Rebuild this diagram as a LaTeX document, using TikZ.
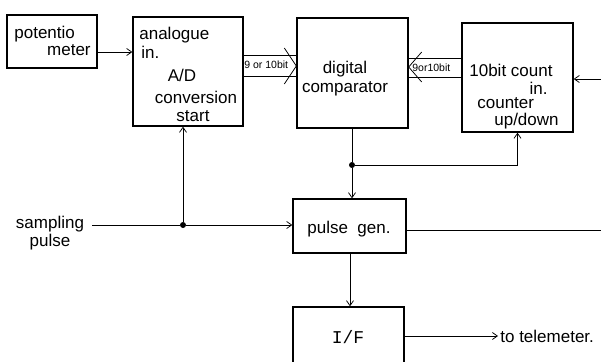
\documentclass[tikz,border=0pt]{standalone}
\usepackage{fontspec}
\setmainfont{Liberation Sans}
\setmonofont{Liberation Mono}
\usetikzlibrary{arrows.meta,positioning,calc}

\begin{document}
\begin{tikzpicture}[x=1pt,y=-1pt,>={Straight Barb[length=5pt,width=7pt]},
   font=\fontsize{17}{18}\selectfont,line width=0.75pt,
   blk/.style={draw,line width=1.4pt,inner sep=0pt},
   txt/.style={inner sep=0pt},
   bl/.style={inner sep=0pt,font=\fontsize{10.5}{11}\selectfont},
   jn/.style={circle,fill,inner sep=0pt,minimum size=6pt}]
  \useasboundingbox (0,0) rectangle (601,361);
  \clip (0,0) rectangle (601,361);
  % blocks
  \node[blk,minimum width=90pt,minimum height=53pt] (pot) at (52,41.5) {};
  \node[blk,minimum width=110pt,minimum height=109pt] (ad) at (188,71.5) {};
  \node[blk,minimum width=111pt,minimum height=110pt] (comp) at (352.5,73) {};
  \node[blk,minimum width=111pt,minimum height=109pt] (cnt) at (517.5,77.5) {};
  \node[blk,minimum width=113pt,minimum height=54pt] (pg) at (349.5,226) {};
  \node[blk,minimum width=111pt,minimum height=60pt] (if) at (348.5,337) {};
  % texts
  \node[txt,anchor=base west] (t1) at (14,38) {potentio};
  \node[txt,anchor=base east] (t2) at (91,56) {meter};
  \node[txt,anchor=base west] (t3) at (139,39) {analogue};
  \node[txt,anchor=base west] (t4) at (141,58) {in.};
  \node[txt,anchor=base] (t5) at (182,81) {A/D};
  \node[txt,anchor=base] (t6) at (196,103) {conversion};
  \node[txt,anchor=base] (t7) at (193,121) {start};
  \node[txt,anchor=base] (t8) at (345,73) {digital};
  \node[txt,anchor=base] (t9) at (345,92) {comparator};
  \node[txt,anchor=base west] (t10) at (469,76) {10bit\ count};
  \node[txt,anchor=base east] (t11) at (548,94) {in.};
  \node[txt,anchor=base west] (t12) at (477,108) {counter};
  \node[txt,anchor=base east] (t13) at (559,125) {up/down};
  \node[txt,anchor=base] (t14) at (349,233) {pulse\ \ gen.};
  \node[txt,anchor=base,font=\fontsize{18}{18}\ttfamily] (t15) at (348,343) {I/F};
  \node[txt,align=center] (sp) at (50,233) {sampling\\pulse};
  \node[txt,anchor=west] (tel) at (500,336) {to telemeter.};
  % free ends and junctions
  \coordinate (sin) at (92,225);
  \coordinate (cin) at (601,79);
  \coordinate (pout) at (601,230);
  \node[jn] (j1) at (352,165) {};
  \node[jn] (j2) at (183,225) {};
  % connectors
  \draw[->] (pot.east |- 0,52) -- (ad.west |- 0,52);
  \draw (ad.east |- 0,55) -- (comp.west |- 0,55);
  \draw (ad.east |- 0,76) -- (comp.west |- 0,76);
  \draw (comp.west |- 0,66) ++(-12,-18) -- ++(12,18) -- ++(-12,18);
  \node[bl,anchor=base west] (b1) at (244,68) {9 or 10bit};
  \draw (cnt.west |- 0,58) -- (comp.east |- 0,58);
  \draw (cnt.west |- 0,77) -- (comp.east |- 0,77);
  \draw (comp.east |- 0,67) ++(13,-15) -- ++(-13,15) -- ++(13,15);
  \node[bl,anchor=base west] (b2) at (412,71) {9or10bit};
  \draw[->] (cin) -- (cnt.east |- cin);
  \draw (comp.south -| j1) -- (j1);
  \draw[->] (j1) -- (j1 |- pg.north);
  \draw[->] (j1) -| (cnt.south);
  \draw (sin) -- (j2);
  \draw[->] (j2) -- (j2 |- ad.south);
  \draw[->] (j2) -- (pg.west |- j2);
  \draw (pg.east |- pout) -- (pout);
  \draw[->] (pg.south -| 350,0) -- (if.north -| 350,0);
  \draw[->] (if.east |- tel.west) -- ([xshift=-2pt]tel.west);
\end{tikzpicture}
\end{document}
